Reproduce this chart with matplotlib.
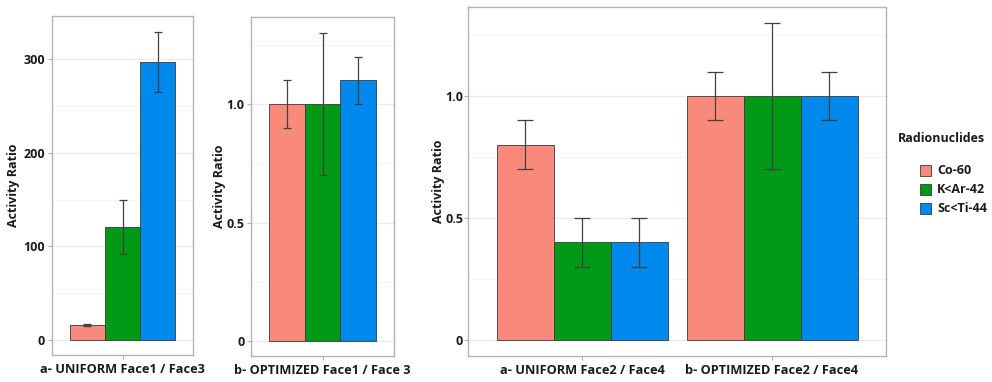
import matplotlib
matplotlib.use("Agg")
import matplotlib.pyplot as plt
import numpy as np
from matplotlib.patches import Rectangle
from matplotlib.ticker import FixedLocator

plt.rcParams['font.family'] = ['Open Sans', 'DejaVu Sans']

nuclides = ["Co-60", "K<Ar-42", "Sc<Ti-44"]
colors = ["#F98A7B", "#009A17", "#0089EC"]

# Panel 1: UNIFORM Face1 / Face3
p1_label = "a- UNIFORM Face1 / Face3"
p1_vals = [16, 121, 297]
p1_err = [1, 29, 32]

# Panel 2: OPTIMIZED Face1 / Face 3
p2_label = "b- OPTIMIZED Face1 / Face 3"
p2_vals = [1.0, 1.0, 1.1]
p2_err = [0.1, 0.3, 0.1]

# Panel 3: Face2 / Face4
p3_labels = ["a- UNIFORM Face2 / Face4", "b- OPTIMIZED Face2 / Face4"]
p3_vals = {"Co-60": [0.8, 1.0], "K<Ar-42": [0.4, 1.0], "Sc<Ti-44": [0.4, 1.0]}
p3_err = {"Co-60": [0.1, 0.1], "K<Ar-42": [0.1, 0.3], "Sc<Ti-44": [0.1, 0.1]}

W, H = 992, 382
fig = plt.figure(figsize=(W / 100, H / 100), dpi=100)


def add_ax(l, r, t, b):
    return fig.add_axes([l / W, (H - b) / H, (r - l) / W, (b - t) / H])


def style(ax, ylim, yticks, ylabels, minor, labx, pad):
    ax.set_ylim(*ylim)
    ax.set_yticks(yticks)
    ax.set_yticklabels(ylabels, fontweight='bold', fontsize=9, color='#1a1a1a')
    ax.yaxis.set_minor_locator(FixedLocator(minor))
    ax.grid(True, which='major', axis='y', color='#EBEBEB', lw=1.0, zorder=0)
    ax.grid(True, which='minor', axis='y', color='#F4F4F4', lw=0.8, zorder=0)
    ax.set_axisbelow(True)
    for s in ax.spines.values():
        s.set_color('#B3B3B3')
        s.set_linewidth(1.0)
    ax.tick_params(axis='both', which='major', length=3, color='#B3B3B3', width=0.8)
    ax.tick_params(axis='y', which='major', pad=pad)
    ax.tick_params(axis='y', which='minor', length=0)
    ax.tick_params(axis='x', labelsize=9.2, pad=3)
    for t in ax.get_xticklabels():
        t.set_fontweight('bold')
        t.set_color('#1a1a1a')
    ax.set_ylabel("Activity Ratio", fontweight='bold', fontsize=9, color='#1a1a1a')
    ax.yaxis.set_label_coords(labx, 0.5)


bw = 0.9 / 3
err_kw = dict(ecolor='#404040', elinewidth=0.9, capthick=0.9)

# Panel 1
ax1 = add_ax(52, 193, 16, 355)
for i, n in enumerate(nuclides):
    ax1.bar(1 + (i - 1) * bw, p1_vals[i], bw, yerr=p1_err[i], color=colors[i],
            edgecolor='#3a3a3a', linewidth=0.6, capsize=3, error_kw=err_kw, zorder=3)
ax1.set_xlim(0.4, 1.6)
ax1.set_xticks([1])
ax1.set_xticklabels([p1_label])
style(ax1, (-16, 346), [0, 100, 200, 300], ["0", "100", "200", "300"], [50, 150, 250], -0.225, 2)

# Panel 2
ax2 = add_ax(251, 394, 17, 356)
for i, n in enumerate(nuclides):
    ax2.bar(1 + (i - 1) * bw, p2_vals[i], bw, yerr=p2_err[i], color=colors[i],
            edgecolor='#3a3a3a', linewidth=0.6, capsize=3, error_kw=err_kw, zorder=3)
ax2.set_xlim(0.4, 1.6)
ax2.set_xticks([1])
ax2.set_xticklabels([p2_label])
style(ax2, (-0.063, 1.367), [0, 0.5, 1.0], ["0", "0.5", "1.0"], [0.25, 0.75, 1.25], -0.175, 1.5)

# Panel 3
ax3 = add_ax(468, 886, 7, 356)
x = np.arange(1, len(p3_labels) + 1)
for i, n in enumerate(nuclides):
    ax3.bar(x + (i - 1) * bw, p3_vals[n], bw, yerr=p3_err[n], color=colors[i],
            edgecolor='#3a3a3a', linewidth=0.6, capsize=6, error_kw=err_kw, zorder=3)
ax3.set_xlim(0.4, 2.6)
ax3.set_xticks(x)
ax3.set_xticklabels(p3_labels)
style(ax3, (-0.066, 1.365), [0, 0.5, 1.0], ["0", "0.5", "1.0"], [0.25, 0.75, 1.25], -0.055, 0.5)

# Legend (drawn manually to match layout)
fig.text(898 / W, 1 - 138 / H, "Radionuclides", fontweight='bold', fontsize=9,
         color='#1a1a1a', ha='left', va='center')
key_y = [170, 189, 208]
for c, n, yy in zip(colors, nuclides, key_y):
    fig.patches.append(Rectangle((920 / W, 1 - (yy + 5.5) / H), 11 / W, 11 / H,
                                 facecolor=c, edgecolor='#3a3a3a', linewidth=0.6,
                                 transform=fig.transFigure, figure=fig))
    fig.text(937 / W, 1 - yy / H, n, fontweight='bold', fontsize=9,
             color='#1a1a1a', ha='left', va='center')

fig.savefig("out.png", dpi=100)
